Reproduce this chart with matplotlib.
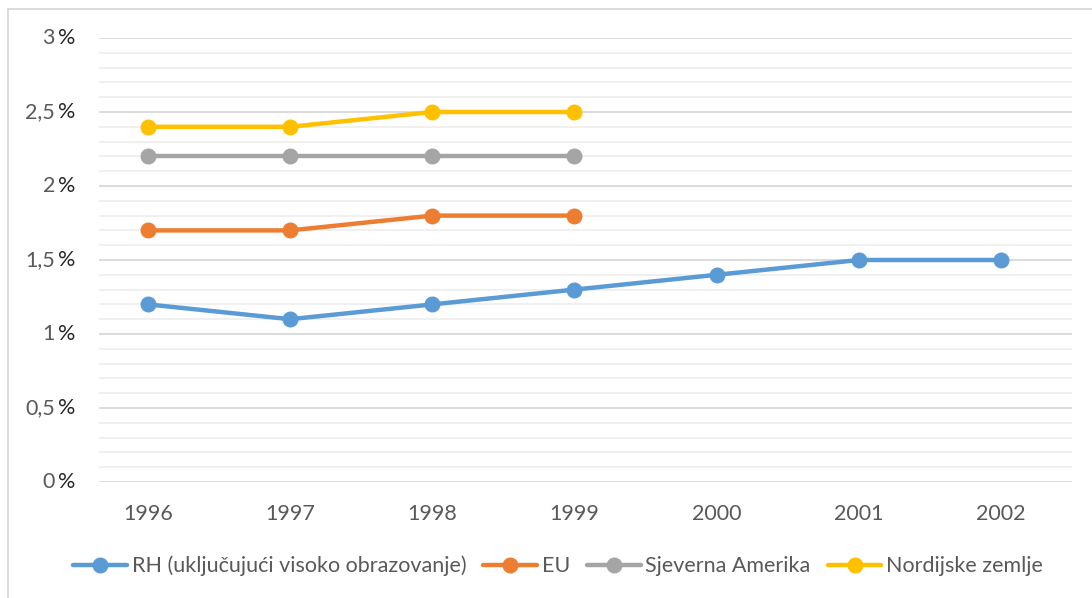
import numpy as np
import matplotlib
matplotlib.use('Agg')
from matplotlib import pyplot as plt
from matplotlib.lines import Line2D
from matplotlib.ticker import MultipleLocator
import matplotlib.transforms as mtransforms

plt.rcParams['font.family'] = ['Lato', 'DejaVu Sans']

years = ['1996', '1997', '1998', '1999', '2000', '2001', '2002']
rh = [1.2, 1.1, 1.2, 1.3, 1.4, 1.5, 1.5]
eu = [1.7, 1.7, 1.8, 1.8]
sjeverna_amerika = [2.2, 2.2, 2.2, 2.2]
nordijske = [2.4, 2.4, 2.5, 2.5]
y_ticks = [0, 0.5, 1, 1.5, 2, 2.5, 3]
y_tick_text = ['0', '0,5', '1', '1,5', '2', '2,5', '3']

series = [
    ('RH (uključujući visoko obrazovanje)', rh, '#5B9BD5'),
    ('EU', eu, '#ED7D31'),
    ('Sjeverna Amerika', sjeverna_amerika, '#A5A5A5'),
    ('Nordijske zemlje', nordijske, '#FFC000'),
]

FS = 15.5
W, H = 1092, 598
fig = plt.figure(figsize=(W / 100, H / 100), dpi=100)
ax = fig.add_axes([99 / W, 1 - 482 / H, (1072 - 99) / W, (482 - 38) / H])

x = np.arange(len(years))
for name, vals, col in series:
    ax.plot(x[:len(vals)], vals, color=col, lw=3.2, marker='o', ms=10.5,
            solid_capstyle='round', label=name, zorder=3)

ax.set_xlim(-0.345, 6.5)
ax.set_ylim(0, 3)
ax.yaxis.set_major_locator(MultipleLocator(0.5))
ax.yaxis.set_minor_locator(MultipleLocator(0.1))
ax.grid(True, which='major', axis='y', color='#D9D9D9', lw=1.3, zorder=1)
ax.grid(True, which='minor', axis='y', color='#EFEFEF', lw=1.3, zorder=0)
ax.set_xticks(x)
ax.set_xticklabels(years, fontsize=FS, color='#595959')
ax.tick_params(axis='x', length=0, pad=16)
ax.tick_params(axis='y', which='both', length=0, labelleft=False)
for s in ax.spines.values():
    s.set_visible(False)

# y labels: number in grey, percent sign darker
trans = mtransforms.blended_transform_factory(fig.transFigure, ax.transData)
for v, t in zip(y_ticks, y_tick_text):
    ax.text(55 / W, v, t, transform=trans, ha='right', va='center',
            fontsize=FS, color='#595959')
    ax.text(58 / W, v, '%', transform=trans, ha='left', va='center',
            fontsize=FS, color='#262626')

# chart frame
fig.add_artist(Line2D([8 / W, 1], [1 - 9 / H, 1 - 9 / H],
                      transform=fig.transFigure, color='#D9D9D9', lw=1.3))
fig.add_artist(Line2D([8 / W, 8 / W], [0, 1 - 9 / H],
                      transform=fig.transFigure, color='#D9D9D9', lw=1.3))

handles, labels = ax.get_legend_handles_labels()
leg = fig.legend(handles, labels, loc='center', bbox_to_anchor=(0.511, 1 - 566 / H),
                 ncol=4, frameon=False, fontsize=FS, handlelength=2.5,
                 handletextpad=0.2, columnspacing=0.8, borderpad=0)
for t in leg.get_texts():
    t.set_color('#595959')

fig.savefig('out.png', dpi=100)
